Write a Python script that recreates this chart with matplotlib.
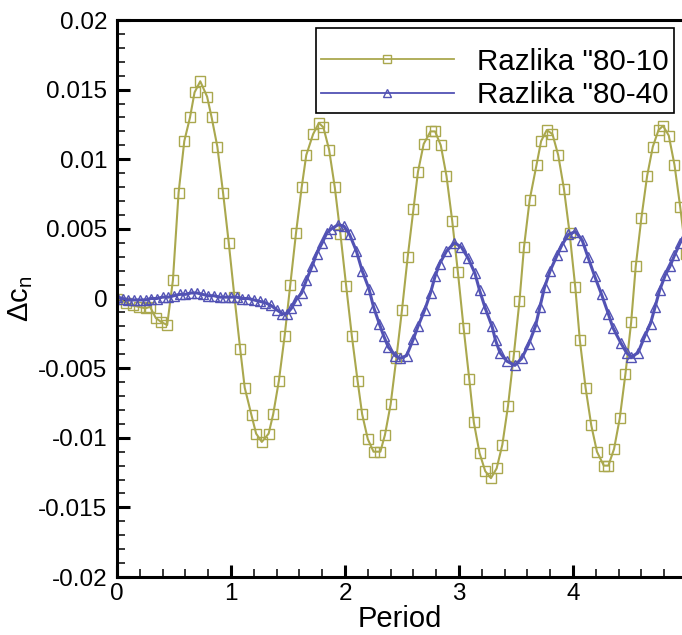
import numpy as np
import matplotlib
matplotlib.use("Agg")
import matplotlib.pyplot as plt
from matplotlib.ticker import FixedLocator, FixedFormatter, MultipleLocator

plt.rcParams['font.family'] = ['Liberation Sans', 'DejaVu Sans']
plt.rcParams['mathtext.fontset'] = 'custom'
plt.rcParams['mathtext.rm'] = 'Liberation Sans'
plt.rcParams['mathtext.it'] = 'Liberation Sans'

# Razlika "80-10 (period, delta cn)
p10 = [0.00, 0.08, 0.14, 0.19, 0.25, 0.29, 0.34, 0.39, 0.44, 0.49,
       0.54, 0.59, 0.64, 0.68, 0.73, 0.79, 0.83, 0.88, 0.93, 0.98,
       1.03, 1.08, 1.12, 1.18, 1.22, 1.27, 1.33, 1.37, 1.42, 1.47,
       1.52, 1.57, 1.62, 1.66, 1.72, 1.77, 1.81, 1.86, 1.91, 1.96,
       2.01, 2.06, 2.11, 2.15, 2.20, 2.25, 2.31, 2.35, 2.40, 2.45,
       2.50, 2.55, 2.60, 2.64, 2.69, 2.75, 2.79, 2.84, 2.89, 2.94,
       2.99, 3.04, 3.09, 3.13, 3.18, 3.23, 3.28, 3.33, 3.38, 3.43,
       3.48, 3.53, 3.57, 3.62, 3.68, 3.72, 3.77, 3.82, 3.87, 3.92,
       3.97, 4.02, 4.06, 4.11, 4.16, 4.21, 4.27, 4.31, 4.36, 4.41,
       4.46, 4.51, 4.55, 4.60, 4.65, 4.70, 4.75, 4.79, 4.84, 4.89,
       4.94, 4.99]
c10 = [0.0000, -0.0003, -0.0005, -0.0006, -0.0007, -0.0006, -0.0014, -0.0017, -0.0019, 0.0013,
       0.0076, 0.0113, 0.0130, 0.0148, 0.0156, 0.0145, 0.0130, 0.0109, 0.0076, 0.0040,
       0.0001, -0.0036, -0.0064, -0.0084, -0.0097, -0.0103, -0.0097, -0.0083, -0.0059, -0.0027,
       0.0010, 0.0047, 0.0080, 0.0103, 0.0118, 0.0126, 0.0123, 0.0107, 0.0080, 0.0046,
       0.0009, -0.0027, -0.0059, -0.0083, -0.0101, -0.0110, -0.0110, -0.0098, -0.0076, -0.0043,
       -0.0008, 0.0030, 0.0064, 0.0091, 0.0111, 0.0120, 0.0120, 0.0110, 0.0088, 0.0056,
       0.0019, -0.0021, -0.0058, -0.0089, -0.0111, -0.0124, -0.0129, -0.0122, -0.0105, -0.0077,
       -0.0041, -0.0002, 0.0037, 0.0071, 0.0096, 0.0113, 0.0121, 0.0118, 0.0103, 0.0079,
       0.0047, 0.0008, -0.0030, -0.0064, -0.0091, -0.0110, -0.0120, -0.0120, -0.0108, -0.0086,
       -0.0054, -0.0017, 0.0023, 0.0058, 0.0088, 0.0109, 0.0121, 0.0124, 0.0117, 0.0096,
       0.0066, 0.0032]

# Razlika "80-40
p40 = [0.00, 0.05, 0.10, 0.15, 0.20, 0.25, 0.30, 0.35, 0.40, 0.45,
       0.50, 0.55, 0.60, 0.65, 0.70, 0.75, 0.80, 0.85, 0.90, 0.95,
       1.00, 1.05, 1.10, 1.15, 1.20, 1.25, 1.30, 1.35, 1.40, 1.45,
       1.49, 1.53, 1.57, 1.62, 1.66, 1.71, 1.75, 1.80, 1.84, 1.88,
       1.94, 1.99, 2.04, 2.10, 2.15, 2.21, 2.25, 2.30, 2.34, 2.38,
       2.44, 2.48, 2.54, 2.60, 2.64, 2.70, 2.75, 2.79, 2.83, 2.89,
       2.96, 3.02, 3.08, 3.14, 3.18, 3.23, 3.29, 3.32, 3.36, 3.42,
       3.49, 3.55, 3.61, 3.67, 3.71, 3.75, 3.80, 3.86, 3.90, 3.96,
       4.02, 4.08, 4.13, 4.19, 4.25, 4.31, 4.35, 4.42, 4.47, 4.51,
       4.57, 4.63, 4.68, 4.72, 4.76, 4.81, 4.85, 4.89, 4.94, 4.99]
c40 = [0.0001, 0.0000, -0.0001, -0.0001, -0.0001, -0.0001, 0.0000, 0.0000, 0.0001, 0.0001,
       0.0002, 0.0003, 0.0003, 0.0004, 0.0004, 0.0003, 0.0002, 0.0002, 0.0001, 0.0001,
       0.0001, 0.0001, 0.0000, 0.0000, -0.0001, -0.0002, -0.0003, -0.0005, -0.0008, -0.0011,
       -0.0011, -0.0007, -0.0001, 0.0004, 0.0013, 0.0023, 0.0032, 0.0040, 0.0047, 0.0050,
       0.0053, 0.0052, 0.0046, 0.0034, 0.0020, 0.0007, -0.0006, -0.0018, -0.0027, -0.0035,
       -0.0041, -0.0043, -0.0041, -0.0029, -0.0020, -0.0008, 0.0004, 0.0016, 0.0025, 0.0034,
       0.0040, 0.0037, 0.0029, 0.0018, 0.0006, -0.0007, -0.0020, -0.0030, -0.0039, -0.0045,
       -0.0048, -0.0043, -0.0033, -0.0020, -0.0006, 0.0008, 0.0020, 0.0031, 0.0038, 0.0046,
       0.0048, 0.0042, 0.0030, 0.0016, 0.0003, -0.0011, -0.0021, -0.0032, -0.0039, -0.0042,
       -0.0039, -0.0027, -0.0018, -0.0006, 0.0006, 0.0017, 0.0023, 0.0031, 0.0040, 0.0047]

yticks = [-0.02, -0.015, -0.01, -0.005, 0, 0.005, 0.01, 0.015, 0.02]
ylabels = ['-0.02', '-0.015', '-0.01', '-0.005', '0', '0.005', '0.01', '0.015', '0.02']

olive = '#aaa84e'
blue = '#5252b4'

fig = plt.figure(figsize=(6.82, 6.35), dpi=100)
ax = fig.add_axes([0.1716, 0.0913, 0.8284, 0.8772])

ax.plot(p10, c10, color=olive, lw=1.5, marker='s', ms=6.5, mfc='none', mec=olive, mew=1.0,
        label='Razlika "80-10')
ax.plot(p40, c40, color=blue, lw=2.2, marker='^', ms=7, mfc='none', mec=blue, mew=1.0,
        label='Razlika "80-40')

ax.set_xlim(0, 4.956)
ax.set_ylim(-0.02, 0.02)
ax.xaxis.set_major_locator(FixedLocator([0, 1, 2, 3, 4]))
ax.xaxis.set_minor_locator(MultipleLocator(0.2))
ax.yaxis.set_major_locator(FixedLocator(yticks))
ax.yaxis.set_major_formatter(FixedFormatter(ylabels))
ax.yaxis.set_minor_locator(MultipleLocator(0.001))

ax.tick_params(which='both', direction='in', top=False, right=False, labelsize=17.5)
ax.tick_params(which='major', length=9, width=2.2)
ax.tick_params(which='minor', length=5.5, width=1.1)
ax.tick_params(axis='y', pad=7)
ax.tick_params(axis='x', pad=4)

for side in ['left', 'bottom', 'top']:
    ax.spines[side].set_linewidth(2.2)
ax.spines['right'].set_visible(False)

ax.set_xlabel('Period', fontsize=21, labelpad=0)
ax.set_ylabel(r'$\Delta c_n$', fontsize=21, labelpad=2)

# blank small title only adds some room above the rows, like the original box
leg = ax.legend(loc='upper right', bbox_to_anchor=(0.985, 0.986), borderaxespad=0,
                fontsize=21.3, title=' ', title_fontproperties={'size': 8},
                numpoints=1, handlelength=4.5, handletextpad=0.8, labelspacing=0.18,
                borderpad=0.15, fancybox=False, framealpha=1, edgecolor='black')
leg.get_frame().set_linewidth(1.2)
for h in leg.legend_handles:
    h.set_linewidth(1.3)
    h.set_markersize(5.5)

fig.savefig('out.png', dpi=100)
